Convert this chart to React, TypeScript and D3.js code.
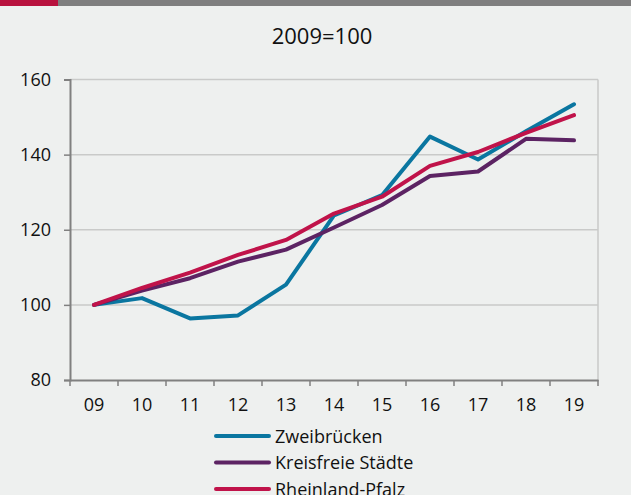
import React, { useEffect, useRef } from "react";
import * as d3 from "d3";

const years = ["09", "10", "11", "12", "13", "14", "15", "16", "17", "18", "19"];
const zweibruecken = [100, 101.8, 96.4, 97.2, 105.4, 123.8, 129.2, 144.8, 138.7, 146.2, 153.4];
const kreisfreie = [100, 103.8, 107.1, 111.5, 114.7, 120.6, 126.6, 134.3, 135.5, 144.2, 143.8];
const rlp = [100, 104.5, 108.6, 113.3, 117.3, 124.3, 128.8, 137.0, 140.7, 145.8, 150.5];
const yTicks = [80, 100, 120, 140, 160];

const seriesNames = ["Zweibrücken", "Kreisfreie Städte", "Rheinland-Pfalz"];
const seriesColors = ["#0a76a0", "#5c2363", "#c0134a"];

function drawChart(ref: React.MutableRefObject<SVGSVGElement | null>) {
  const width = 631;
  const height = 495;
  const font = "'Open Sans', sans-serif";

  const svg = d3.select(ref.current);
  svg.selectAll("*").remove();

  // background + top bar
  svg.append("rect").attr("width", width).attr("height", height).attr("fill", "#eef0ef");
  svg.append("rect").attr("x", 0).attr("y", 0).attr("width", width).attr("height", 6).attr("fill", "#7f7f7f");
  svg.append("rect").attr("x", 0).attr("y", 0).attr("width", 58).attr("height", 6).attr("fill", "#b8123e");

  // title
  svg
    .append("text")
    .attr("x", 322)
    .attr("y", 44)
    .attr("text-anchor", "middle")
    .style("font-family", font)
    .style("font-size", "22px")
    .attr("fill", "#111")
    .text("2009=100");

  const x = d3.scaleBand<string>().domain(years).range([70, 598]);
  const y = d3.scaleLinear().domain([80, 160]).range([380, 79.5]);

  // gridlines
  svg
    .append("g")
    .selectAll("line")
    .data(yTicks.slice(1))
    .enter()
    .append("line")
    .attr("x1", 70)
    .attr("x2", 598)
    .attr("y1", (d) => y(d))
    .attr("y2", (d) => y(d))
    .attr("stroke", "#c9cac9")
    .attr("stroke-width", 1.5);

  // right border
  svg
    .append("line")
    .attr("x1", 598)
    .attr("x2", 598)
    .attr("y1", y(160))
    .attr("y2", y(80))
    .attr("stroke", "#c9cac9")
    .attr("stroke-width", 1.5);

  // y axis
  const yAxis = svg
    .append("g")
    .attr("transform", "translate(70,0)")
    .call(d3.axisLeft(y).tickValues(yTicks).tickSize(6).tickPadding(13));
  yAxis.select(".domain").attr("stroke", "#808080").attr("stroke-width", 2);
  yAxis.selectAll(".tick line").attr("stroke", "#808080").attr("stroke-width", 1.5);
  yAxis
    .selectAll(".tick text")
    .style("font-family", font)
    .style("font-size", "18px")
    .attr("fill", "#111");

  // x axis
  const xAxis = svg
    .append("g")
    .attr("transform", "translate(0,380)")
    .call(d3.axisBottom(x).tickSize(0).tickPadding(18));
  xAxis.select(".domain").attr("stroke", "#808080").attr("stroke-width", 2);
  xAxis
    .selectAll(".tick text")
    .style("font-family", font)
    .style("font-size", "18px")
    .attr("fill", "#111");
  // ticks between categories
  xAxis
    .selectAll(".sep")
    .data(d3.range(years.length + 1))
    .enter()
    .append("line")
    .attr("x1", (i) => 70 + i * x.step())
    .attr("x2", (i) => 70 + i * x.step())
    .attr("y1", 0)
    .attr("y2", 6)
    .attr("stroke", "#808080")
    .attr("stroke-width", 1.5);

  const line = d3
    .line<number>()
    .x((d, i) => (x(years[i]) as number) + x.bandwidth() / 2)
    .y((d) => y(d));

  [zweibruecken, kreisfreie, rlp].forEach((s, i) => {
    svg
      .append("path")
      .datum(s)
      .attr("d", line)
      .attr("fill", "none")
      .attr("stroke", seriesColors[i])
      .attr("stroke-width", 4)
      .attr("stroke-linejoin", "round")
      .attr("stroke-linecap", "round");
  });

  // legend
  const legend = svg.append("g").attr("transform", "translate(216,436)");
  seriesNames.forEach((name, i) => {
    const g = legend.append("g").attr("transform", `translate(0,${i * 26.5})`);
    g.append("line")
      .attr("x1", 0)
      .attr("x2", 53)
      .attr("stroke", seriesColors[i])
      .attr("stroke-width", 4)
      .attr("stroke-linecap", "round");
    g.append("text")
      .attr("x", 59)
      .attr("y", 6.5)
      .style("font-family", font)
      .style("font-size", "18px")
      .attr("fill", "#111")
      .text(name);
  });
}

const App = () => {
  const ref = useRef<SVGSVGElement | null>(null);
  useEffect(() => {
    drawChart(ref);
  }, []);

  return (
    <svg
      ref={ref}
      width={631}
      height={495}
      style={{ position: "absolute", left: 0, top: 0, display: "block" }}
    />
  );
};

export default App;
